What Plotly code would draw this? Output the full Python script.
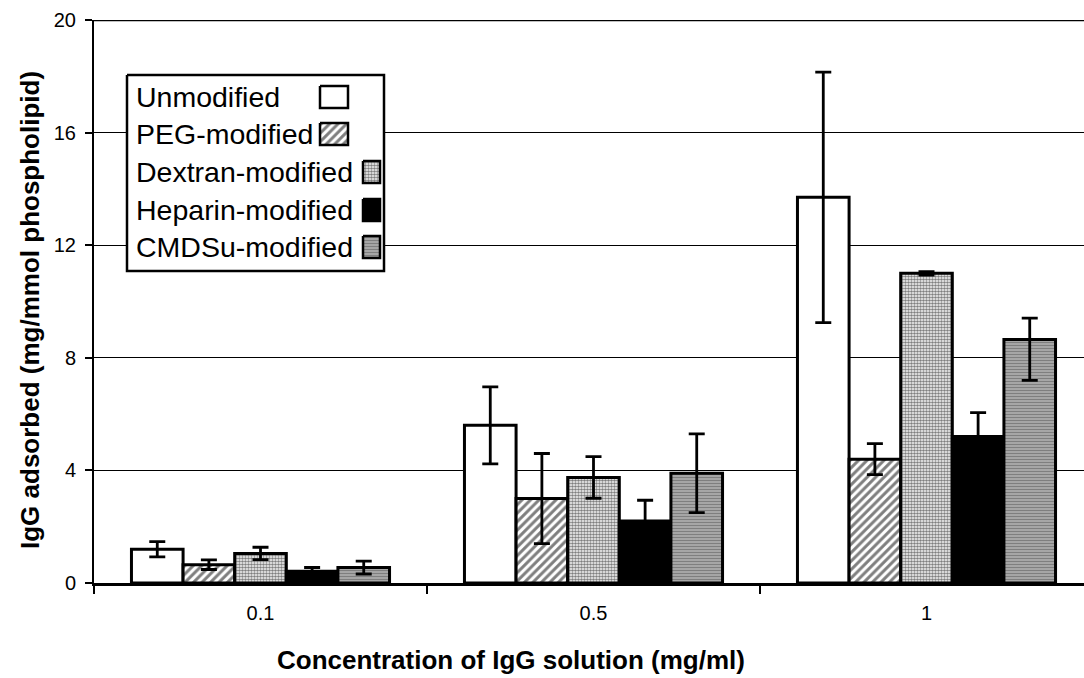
import plotly.graph_objects as go

# ---- data -------------------------------------------------------------
concentrations = ["0.1", "0.5", "1"]
series_names = ["Unmodified", "PEG-modified", "Dextran-modified",
                "Heparin-modified", "CMDSu-modified"]

unmodified = [1.2, 5.6, 13.7]
unmodified_err = [0.27, 1.37, 4.45]

peg = [0.65, 3.0, 4.4]
peg_err = [0.17, 1.6, 0.55]

dextran = [1.05, 3.75, 11.0]
dextran_err = [0.22, 0.74, 0.06]

heparin = [0.42, 2.2, 5.2]
heparin_err = [0.13, 0.74, 0.85]

cmdsu = [0.55, 3.9, 8.65]
cmdsu_err_plus = [0.23, 1.4, 0.76]
cmdsu_err_minus = [0.23, 1.4, 1.45]

y_ticks = [0, 4, 8, 12, 16, 20]

# ---- styling ----------------------------------------------------------
FONT = "Liberation Sans, Arial, Helvetica, sans-serif"
W, H = 1084, 678
M_L, M_R, M_T, M_B = 94, 0, 20, 95

fills = [
    dict(color="white"),
    dict(color="white", pattern=dict(shape="/", fgcolor="black", bgcolor="white",
                                     size=6, solidity=0.5)),
    dict(color="white", pattern=dict(shape=".", fgcolor="black", bgcolor="white",
                                     size=3, solidity=0.6)),
    dict(color="black"),
    dict(color="white", pattern=dict(shape="-", fgcolor="black", bgcolor="white",
                                     size=3, solidity=0.8)),
]

values = [unmodified, peg, dextran, heparin, cmdsu]
err_plus = [unmodified_err, peg_err, dextran_err, heparin_err, cmdsu_err_plus]
err_minus = [unmodified_err, peg_err, dextran_err, heparin_err, cmdsu_err_minus]

fig = go.Figure()

for name, vals, ep, em, fill in zip(series_names, values, err_plus, err_minus, fills):
    marker = dict(fill)
    marker["line"] = dict(color="black", width=3)
    fig.add_trace(go.Bar(
        name=name, x=concentrations, y=vals, marker=marker,
        error_y=dict(type="data", array=ep, arrayminus=em, symmetric=False,
                     color="black", thickness=2.8, width=8),
        showlegend=False,
    ))

# ---- hand-built legend (text left, swatch right) on a pixel overlay ----
LEG_L, LEG_R, LEG_T, LEG_B = 127, 384, 75, 271
row_y = [97, 134, 172, 210, 247]
sw_x = [(320, 348), (320, 348), (363, 380), (363, 380), (363, 380)]
SW_H = 22

fig.add_trace(go.Scatter(
    x=[LEG_L, LEG_R, LEG_R, LEG_L, LEG_L], y=[LEG_T, LEG_T, LEG_B, LEG_B, LEG_T],
    mode="lines", fill="toself", fillcolor="white",
    line=dict(color="black", width=2.5),
    xaxis="x2", yaxis="y2", showlegend=False, hoverinfo="skip"))

for name, yc, (x0, x1), fill in zip(series_names, row_y, sw_x, fills):
    kw = {}
    if "pattern" in fill:
        p = fill["pattern"]
        kw["fillpattern"] = dict(shape=p["shape"], fgcolor=p["fgcolor"],
                                 bgcolor=p["bgcolor"], size=p["size"],
                                 solidity=p["solidity"])
    fig.add_trace(go.Scatter(
        x=[x0, x1, x1, x0, x0],
        y=[yc - SW_H / 2, yc - SW_H / 2, yc + SW_H / 2, yc + SW_H / 2, yc - SW_H / 2],
        mode="lines", fill="toself", fillcolor=fill["color"],
        line=dict(color="black", width=2.5),
        xaxis="x2", yaxis="y2", showlegend=False, hoverinfo="skip", **kw))
    fig.add_annotation(
        x=134, y=yc, xref="x2", yref="y2", text=name, showarrow=False,
        xanchor="left", yanchor="middle",
        font=dict(family=FONT, size=28.5, color="black"))

# ---- axis titles -------------------------------------------------------
plot_w = W - M_L - M_R
plot_h = H - M_T - M_B
fig.add_annotation(
    text="<b>Concentration of IgG solution (mg/ml)</b>",
    xref="paper", yref="paper", x=(511 - M_L) / plot_w, y=-(660 - (H - M_B)) / plot_h,
    xanchor="center", yanchor="middle", showarrow=False,
    font=dict(family=FONT, size=26, color="black"))
fig.add_annotation(
    text="<b>IgG adsorbed (mg/mmol phospholipid)</b>",
    xref="paper", yref="paper", x=(30 - M_L) / plot_w, y=((H - M_B) - 310) / plot_h,
    xanchor="center", yanchor="middle", textangle=-90, showarrow=False,
    font=dict(family=FONT, size=26, color="black"))

# top border line at the axis maximum
fig.add_shape(type="line", xref="paper", yref="y", x0=0, x1=1, y0=20, y1=20,
              line=dict(color="black", width=2.5))

fig.update_layout(
    width=W, height=H,
    margin=dict(l=M_L, r=M_R, t=M_T, b=M_B),
    paper_bgcolor="white", plot_bgcolor="white",
    barmode="group", bargap=0.225, bargroupgap=0,
    font=dict(family=FONT, color="black"),
    xaxis=dict(
        type="category", range=[-0.5, -0.5 + plot_w / 333.0],
        tickson="boundaries", ticks="outside", ticklen=8, tickwidth=1.5,
        tickcolor="black", showline=True, linecolor="black", linewidth=2.5,
        showgrid=False, tickfont=dict(family=FONT, size=20, color="black"),
        ticklabelstandoff=10,
    ),
    yaxis=dict(
        range=[0, 20], tickvals=y_ticks, ticks="outside", ticklen=7,
        tickwidth=1.5, tickcolor="black", showline=True, linecolor="black",
        linewidth=2, showgrid=True, gridcolor="black", gridwidth=1,
        zeroline=False, tickfont=dict(family=FONT, size=20, color="black"),
        ticklabelstandoff=5,
    ),
    xaxis2=dict(range=[M_L, W - M_R], overlaying="x", anchor="y2",
                visible=False, showgrid=False),
    yaxis2=dict(range=[H - M_B, M_T], overlaying="y", anchor="x2",
                visible=False, showgrid=False),
)

fig.write_html("out.html")
